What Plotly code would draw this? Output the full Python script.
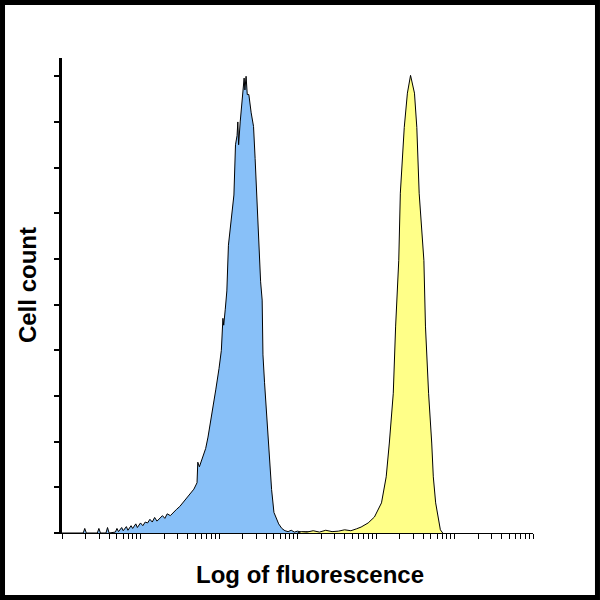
import numpy as np
import plotly.graph_objects as go

# -----------------------------------------------------------
# Histogramas de fluorescencia (posição em décadas log10, contagem %)
# -----------------------------------------------------------
blue_log = [0.00, 0.27, 0.29, 0.31, 0.45, 0.47, 0.49, 0.56, 0.58, 0.60,
            0.68, 0.70, 0.72, 0.76, 0.78, 0.82, 0.84, 0.88, 0.90, 0.94,
            0.96, 1.00, 1.03, 1.06, 1.09, 1.12, 1.15, 1.18, 1.21, 1.25,
            1.28, 1.31, 1.34, 1.38, 1.42, 1.46, 1.50, 1.55, 1.60, 1.65,
            1.68, 1.72, 1.73, 1.75, 1.78, 1.83, 1.86, 1.89, 1.93, 1.96,
            2.00, 2.03, 2.05, 2.06, 2.08, 2.10, 2.12, 2.15, 2.19, 2.21,
            2.23, 2.24, 2.25, 2.27, 2.30, 2.32, 2.33, 2.345, 2.36, 2.38,
            2.41, 2.44, 2.46, 2.47, 2.49, 2.51, 2.53, 2.55, 2.56, 2.58,
            2.60, 2.62, 2.64, 2.67, 2.70, 2.73, 2.76, 2.80, 2.84, 2.88,
            2.92, 2.96, 3.00, 3.05, 3.10, 3.17, 3.22]
blue_count = [0, 0, 1.0, 0, 0, 1.0, 0, 0, 1.2, 0,
              0.2, 1.0, 0.3, 1.2, 0.5, 1.4, 0.6, 1.6, 1.0, 2.0,
              1.2, 2.2, 1.6, 2.4, 2.2, 3.0, 2.4, 3.4, 2.6, 3.2,
              3.8, 3.2, 4.2, 3.8, 4.6, 5.2, 5.8, 6.8, 8.0, 8.8,
              9.6, 11.0, 15.5, 14.5, 16.0, 18.5, 21.0, 24.0, 28.0, 31.5,
              36.0, 40.0, 47.0, 45.5, 49.0, 53.0, 63.0, 68.0, 74.0, 85.0,
              87.0, 90.0, 85.0, 90.0, 96.0, 99.6, 97.0, 100.0, 96.0, 96.0,
              92.0, 89.0, 82.0, 78.0, 71.0, 60.0, 55.0, 51.0, 39.0, 33.0,
              27.5, 22.0, 16.5, 9.5, 4.5, 3.0, 2.0, 1.0, 0.5, 0.3,
              0.6, 0.2, 0.4, 0.2, 0.3, 0.2, 0]

yellow_log = [3.00, 3.05, 3.12, 3.20, 3.28, 3.36, 3.44, 3.52, 3.60, 3.68,
              3.75, 3.81, 3.90, 3.98, 4.07, 4.13, 4.17, 4.22, 4.25, 4.29,
              4.31, 4.36, 4.40, 4.44, 4.49, 4.52, 4.55, 4.61, 4.63, 4.67,
              4.71, 4.73, 4.76, 4.80, 4.82, 4.85]
yellow_count = [0, 0.3, 0.2, 0.5, 0.2, 0.6, 0.3, 0.4, 0.7, 0.5,
                0.9, 1.3, 2.2, 3.5, 6.6, 12.3, 19.7, 30.6, 45.3, 59.7,
                74.4, 88.8, 96.3, 100.2, 96.3, 88.8, 74.4, 59.7, 45.3, 30.6,
                19.7, 12.3, 6.6, 2.8, 0.7, 0]

y_ticks = [0, 10, 20, 30, 40, 50, 60, 70, 80, 90, 100]
x_ticks = [m * 10 ** k for k in range(6) for m in range(1, 10)] + [10 ** 6]

FONT = "Liberation Sans, Arial, sans-serif"

fig = go.Figure()

fig.add_trace(go.Scatter(
    x=np.power(10.0, blue_log), y=blue_count,
    mode="lines", fill="tozeroy",
    fillcolor="#88c0f8", line=dict(color="black", width=1),
    hoverinfo="skip"))

fig.add_trace(go.Scatter(
    x=np.power(10.0, yellow_log), y=yellow_count,
    mode="lines", fill="tozeroy",
    fillcolor="#ffff88", line=dict(color="black", width=1),
    hoverinfo="skip"))

fig.update_layout(
    width=600, height=600,
    margin=dict(l=62, r=67, t=58, b=67),
    paper_bgcolor="white", plot_bgcolor="white",
    showlegend=False,
    xaxis=dict(type="log", range=[0, 6], tickvals=x_ticks,
               showticklabels=False, ticks="outside", ticklen=5,
               tickwidth=1, tickcolor="black", showline=True,
               linecolor="black", linewidth=1, showgrid=False,
               zeroline=False),
    yaxis=dict(range=[0, 104], tickvals=y_ticks, showticklabels=False,
               ticks="outside", ticklen=5, tickwidth=1.5,
               tickcolor="black", showline=True, linecolor="black",
               linewidth=3, showgrid=False, zeroline=False),
    # moldura preta em volta da imagem
    shapes=[dict(type="rect", xref="paper", yref="paper",
                 x0=-0.1263, x1=1.1369, y0=-0.1358, y1=1.1168,
                 line=dict(color="black", width=5))],
    annotations=[
        dict(text="Log of fluorescence", xref="paper", yref="paper",
             x=0.5265, y=-0.0884, showarrow=False,
             xanchor="center", yanchor="middle",
             font=dict(family=FONT, size=24, color="black", weight="bold")),
        dict(text="Cell count", xref="paper", yref="paper",
             x=-0.0743, y=0.522, showarrow=False, textangle=-90,
             xanchor="center", yanchor="middle",
             font=dict(family=FONT, size=24, color="black", weight="bold")),
    ],
)

# sem margem no body para o gráfico ocupar a janela inteira
fig.write_html("out.html",
               config={"displayModeBar": False},
               post_script="document.body.style.margin='0';"
                           "document.body.style.overflow='hidden';")
